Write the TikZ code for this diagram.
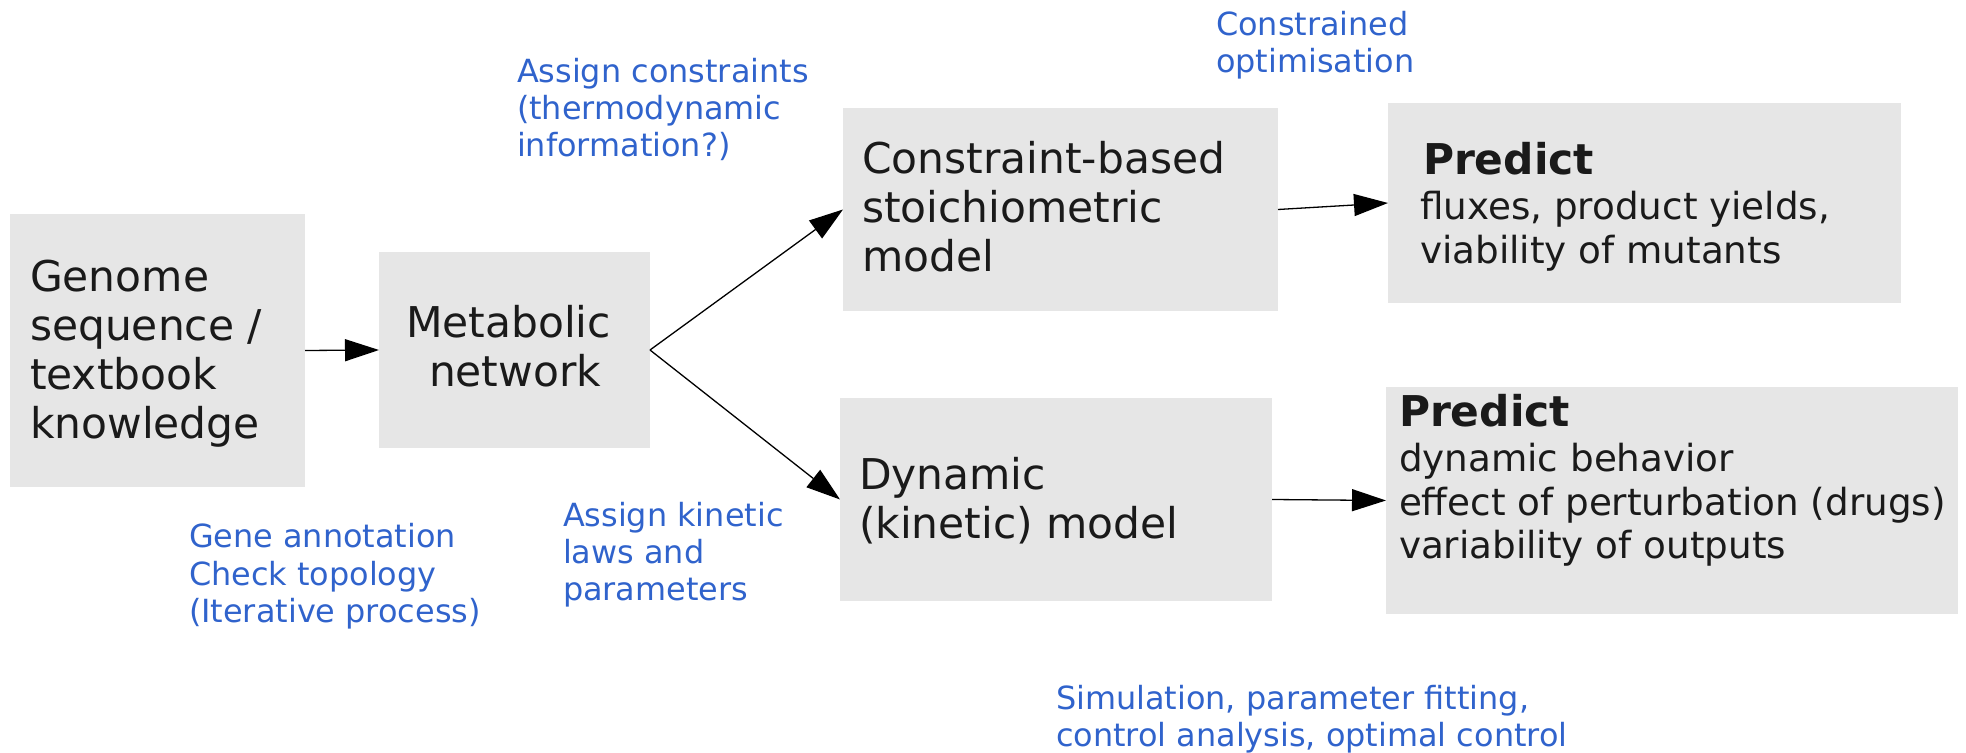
\documentclass[tikz,border=0pt]{standalone}
\usepackage{fontspec}
\setmainfont{DejaVu Sans}
\usetikzlibrary{arrows.meta}
\definecolor{boxgray}{HTML}{E6E6E6}
\definecolor{ink}{HTML}{1A1A1A}
\definecolor{noteblue}{HTML}{3063CC}
\begin{document}
\begin{tikzpicture}[x=0.5pt,y=-0.5pt,
  box/.style={fill=boxgray, draw=none, inner sep=0pt, outer sep=0pt, anchor=north west},
  big/.style={anchor=base west, inner sep=0pt, outer sep=0pt, text=ink, font=\fontsize{21.2}{24.4}\selectfont},
  bighead/.style={big, font=\fontsize{21.2}{24.4}\selectfont\bfseries},
  body/.style={anchor=base west, inner sep=0pt, outer sep=0pt, text=ink, font=\fontsize{18.65}{21.75}\selectfont},
  note/.style={anchor=base west, inner sep=0pt, outer sep=0pt, text=noteblue, font=\fontsize{15.95}{18.5}\selectfont},
  arr/.style={draw=black, line width=0.65pt, -{Triangle[length=17pt,width=11pt]}}]
\useasboundingbox (0,0) rectangle (1966,753);
% boxes
\node[box, minimum width=147.5pt, minimum height=136.5pt] (gen) at (10,214) {};
\node[box, minimum width=135.5pt, minimum height=98pt] (met) at (379,252) {};
\node[box, minimum width=217.5pt, minimum height=101.5pt] (con) at (843,108) {};
\node[box, minimum width=216pt, minimum height=101.5pt] (dyn) at (840,398) {};
\node[box, minimum width=256.5pt, minimum height=100pt] (p1) at (1388,103) {};
\node[box, minimum width=286pt, minimum height=113.5pt] (p2) at (1386,387) {};
% box texts
\node[big] (gent) at (30,292) {\vtop{\hbox{Genome}\hbox{sequence /}\hbox{textbook}\hbox{knowledge}}};
\node[big] (mett) at (406,338) {\vtop{\hbox{Metabolic}\hbox{\kern11.5pt network}}};
\node[big] (cont) at (862,174) {\vtop{\hbox{Constraint-based}\hbox{stoichiometric}\hbox{model}}};
\node[big] (dynt) at (859,490) {\vtop{\hbox{Dynamic}\hbox{(kinetic) model}}};
\node[bighead] (p1h) at (1423,175) {Predict};
\node[body] (p1t) at (1420,220) {\vtop{\hbox{fluxes, product yields,}\hbox{viability of mutants}}};
\node[bighead] (p2h) at (1399,427) {Predict};
\node[body] (p2t) at (1399,472) {\vtop{\hbox{dynamic behavior}\hbox{effect of perturbation (drugs)}\hbox{variability of outputs}}};
% notes
\node[note] (n1) at (517,83) {\vtop{\hbox{Assign constraints}\hbox{(thermodynamic}\hbox{information?)}}};
\node[note] (n2) at (1216,36) {\vtop{\hbox{Constrained}\hbox{optimisation}}};
\node[note] (n3) at (189,548) {\vtop{\hbox{Gene annotation}\hbox{Check topology}\hbox{(Iterative process)}}};
\node[note] (n4) at (563,527) {\vtop{\hbox{Assign kinetic}\hbox{laws and}\hbox{parameters}}};
\node[note] (n5) at (1056,709) {\vtop{\hbox{Simulation, parameter fitting,}\hbox{control analysis, optimal control}}};
% arrows
\draw[arr] (gen.east) -- (met.west);
\draw[arr] (met.east) -- (con.west);
\draw[arr] (met.east) -- (dyn.west);
\draw[arr] (con.east) -- (p1.west);
\draw[arr] (dyn.east) -- (p2.west);
\end{tikzpicture}
\end{document}
